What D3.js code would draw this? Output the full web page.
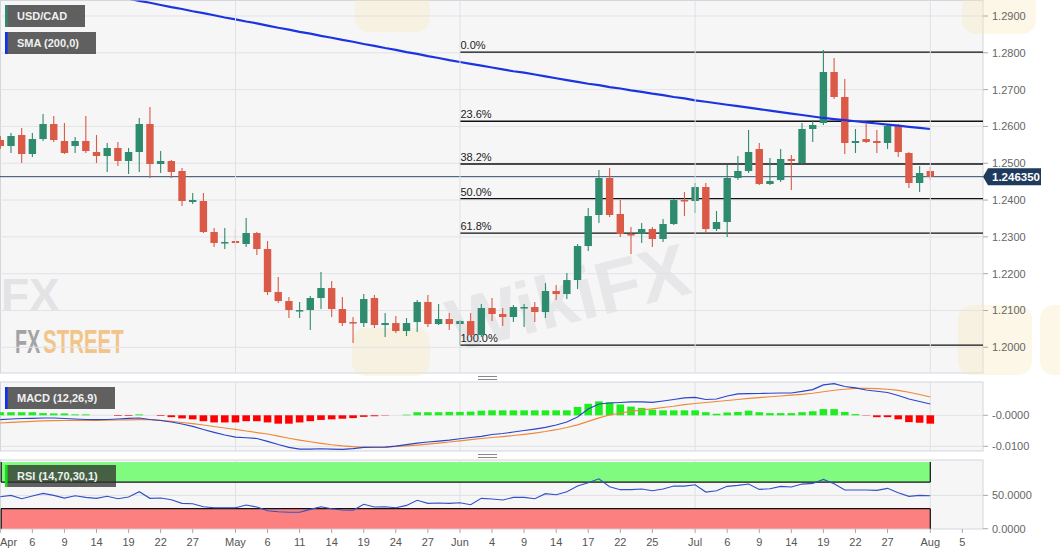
<!DOCTYPE html>
<html><head><meta charset="utf-8">
<script src="https://cdn.jsdelivr.net/npm/d3@7"></script>
<style>
html,body{margin:0;padding:0;background:#fff;}
svg{display:block;font-family:"Liberation Sans",Arial,sans-serif;}
</style></head><body>
<svg id="c" width="1060" height="555"></svg>
<script>
// ---------- DATA (USD/CAD daily, Apr 1 – Aug 2) ----------
const open=[1.25631,1.25468,1.25767,1.25251,1.25658,1.26066,1.25604,1.25468,1.25604,1.25305,
1.25196,1.25414,1.25061,1.25305,1.26066,1.24979,1.25061,1.24789,1.23947,1.23974,
1.23132,1.22833,1.22887,1.22806,1.23105,1.22670,1.21501,1.21257,1.20985,1.21012,
1.21339,1.21610,1.21040,1.20686,1.20659,1.21339,1.20605,1.20659,1.20442,1.20686,
1.21230,1.20632,1.20768,1.20632,1.20713,1.20333,1.21067,1.20904,1.20822,1.21067,
1.21094,1.20958,1.21529,1.21447,1.21827,1.22751,1.23594,1.24599,1.23621,1.23077,
1.23077,1.23213,1.22942,1.23349,1.24001,1.23974,1.24354,1.23213,1.23403,1.24599,
1.24789,1.25387,1.24436,1.24544,1.25115,1.25006,1.25930,1.26093,1.27479,1.26800,
1.25550,1.25658,1.25604,1.25550,1.26012,1.25278,1.24463,1.24789];
const high=[1.25740,1.25821,1.25957,1.25821,1.26338,1.26283,1.26093,1.25713,1.26283,1.25767,
1.25550,1.25577,1.25414,1.26229,1.26528,1.25332,1.25088,1.24871,1.24191,1.24191,
1.23240,1.23240,1.23186,1.23512,1.23132,1.22887,1.21909,1.21366,1.21230,1.21393,
1.22045,1.21800,1.21366,1.20822,1.21447,1.21420,1.20931,1.20849,1.20795,1.21284,
1.21420,1.21175,1.20931,1.20740,1.20931,1.21175,1.21339,1.21067,1.21148,1.21175,
1.21230,1.21746,1.21692,1.22017,1.22806,1.23784,1.24816,1.24871,1.24001,1.23268,
1.23376,1.23268,1.23485,1.24028,1.24218,1.24463,1.24463,1.23702,1.24952,1.25196,
1.25903,1.25550,1.25142,1.25387,1.25224,1.26093,1.26175,1.28077,1.27859,1.27289,
1.25930,1.26066,1.25903,1.26066,1.26066,1.25305,1.24925,1.24898];
const low=[1.25387,1.25278,1.25006,1.25169,1.25604,1.25577,1.25251,1.25278,1.25278,1.25006,
1.24762,1.24925,1.24708,1.24762,1.24599,1.24735,1.24599,1.23838,1.23892,1.23105,
1.22724,1.22670,1.22670,1.22724,1.22507,1.21420,1.21203,1.20795,1.20795,1.20469,
1.21040,1.20822,1.20578,1.20116,1.20550,1.20523,1.20279,1.20388,1.20306,1.20415,
1.20550,1.20605,1.20469,1.20061,1.20279,1.20279,1.20713,1.20578,1.20686,1.20550,
1.20686,1.20795,1.21284,1.21311,1.21583,1.22615,1.23376,1.23539,1.22996,1.22534,
1.22833,1.22724,1.22860,1.23322,1.23566,1.23648,1.23105,1.23159,1.22996,1.24544,
1.24735,1.24409,1.24409,1.24490,1.24273,1.24979,1.25577,1.26039,1.26745,1.25251,
1.25278,1.25550,1.25278,1.25387,1.25169,1.24327,1.24218,1.24544];
const close=[1.25468,1.25740,1.25251,1.25658,1.26066,1.25631,1.25278,1.25604,1.25332,1.25196,
1.25414,1.25061,1.25305,1.26066,1.24979,1.25061,1.24762,1.23974,1.24001,1.23132,
1.22833,1.22860,1.22833,1.23105,1.22670,1.21501,1.21257,1.21012,1.21012,1.21339,
1.21610,1.21040,1.20659,1.20659,1.21311,1.20605,1.20659,1.20442,1.20659,1.21230,
1.20632,1.20768,1.20632,1.20713,1.20333,1.21067,1.20904,1.20822,1.21094,1.21094,
1.20958,1.21529,1.21447,1.21827,1.22751,1.23566,1.24599,1.23594,1.23077,1.23050,
1.23213,1.22942,1.23349,1.24001,1.23974,1.24354,1.23213,1.23403,1.24599,1.24789,
1.25305,1.24436,1.24517,1.25115,1.25061,1.25930,1.26039,1.27479,1.26800,1.25550,
1.25604,1.25577,1.25550,1.26012,1.25305,1.24463,1.24735,1.24635];
const sma200=[1.3014,1.3008,1.3003,1.2997,1.2992,1.2986,1.2980,1.2975,1.2969,1.2964,
1.2958,1.2952,1.2947,1.2941,1.2936,1.2930,1.2924,1.2919,1.2913,1.2908,
1.2902,1.2896,1.2891,1.2885,1.2880,1.2874,1.2868,1.2863,1.2857,1.2852,
1.2846,1.2841,1.2835,1.2830,1.2824,1.2819,1.2813,1.2808,1.2802,1.2797,
1.2791,1.2786,1.2780,1.2775,1.2770,1.2765,1.2760,1.2755,1.2750,1.2746,
1.2741,1.2736,1.2731,1.2726,1.2721,1.2716,1.2712,1.2707,1.2703,1.2698,
1.2694,1.2689,1.2685,1.2680,1.2676,1.2671,1.2667,1.2663,1.2659,1.2655,
1.2651,1.2647,1.2643,1.2639,1.2635,1.2631,1.2627,1.2623,1.2620,1.2617,
1.2614,1.2611,1.2608,1.2605,1.2602,1.2599,1.2596,1.2593];
const macd=[-0.00142,-0.00120,-0.00103,-0.00097,-0.00087,-0.00087,-0.00103,-0.00120,-0.00136,-0.00142,
-0.00136,-0.00120,-0.00097,-0.00087,-0.00136,-0.00168,-0.00216,-0.00281,-0.00355,-0.00459,
-0.00549,-0.00636,-0.00701,-0.00724,-0.00749,-0.00840,-0.00943,-0.01034,-0.01089,-0.01089,
-0.01079,-0.01089,-0.01098,-0.01072,-0.01034,-0.01030,-0.01024,-0.00992,-0.00943,-0.00895,
-0.00862,-0.00830,-0.00798,-0.00756,-0.00717,-0.00678,-0.00620,-0.00588,-0.00539,-0.00491,
-0.00443,-0.00388,-0.00313,-0.00216,-0.00055,0.00203,0.00365,0.00397,0.00413,0.00430,
0.00430,0.00420,0.00462,0.00510,0.00559,0.00581,0.00510,0.00526,0.00623,0.00688,
0.00698,0.00704,0.00711,0.00720,0.00720,0.00769,0.00827,0.00979,0.01021,0.00930,
0.00882,0.00817,0.00775,0.00736,0.00640,0.00526,0.00446,0.00365];
const signal=[-0.00249,-0.00226,-0.00210,-0.00194,-0.00178,-0.00174,-0.00168,-0.00165,-0.00162,-0.00162,
-0.00158,-0.00152,-0.00145,-0.00142,-0.00142,-0.00162,-0.00194,-0.00233,-0.00271,-0.00313,
-0.00362,-0.00410,-0.00452,-0.00507,-0.00556,-0.00604,-0.00669,-0.00740,-0.00798,-0.00853,
-0.00904,-0.00950,-0.00985,-0.01011,-0.01024,-0.01024,-0.01024,-0.01005,-0.00985,-0.00959,
-0.00927,-0.00895,-0.00862,-0.00824,-0.00782,-0.00749,-0.00717,-0.00685,-0.00652,-0.00614,
-0.00572,-0.00523,-0.00465,-0.00394,-0.00307,-0.00194,-0.00081,0.00010,0.00074,0.00129,
0.00171,0.00210,0.00252,0.00291,0.00342,0.00381,0.00413,0.00446,0.00478,0.00510,
0.00546,0.00572,0.00598,0.00623,0.00649,0.00678,0.00711,0.00759,0.00808,0.00840,
0.00866,0.00872,0.00862,0.00840,0.00801,0.00743,0.00672,0.00591];
const hist=[0.0010,0.0010,0.0010,0.0010,0.0007,0.0006,0.0006,0.0003,0.0003,0.0000,
0.0000,-0.0002,-0.0002,0.0003,0.0000,-0.0002,-0.0006,-0.0010,-0.0013,-0.0019,
-0.0023,-0.0023,-0.0023,-0.0019,-0.0019,-0.0023,-0.0027,-0.0027,-0.0023,-0.0019,
-0.0015,-0.0013,-0.0011,-0.0009,-0.0005,-0.0003,-0.0001,0.0000,0.0002,0.0010,
0.0010,0.0010,0.0011,0.0011,0.0012,0.0015,0.0016,0.0016,0.0016,0.0016,
0.0016,0.0016,0.0016,0.0016,0.0027,0.0037,0.0045,0.0042,0.0035,0.0028,
0.0024,0.0018,0.0016,0.0016,0.0016,0.0016,0.0010,0.0005,0.0009,0.0011,
0.0015,0.0010,0.0007,0.0007,0.0007,0.0010,0.0013,0.0020,0.0020,0.0011,
0.0004,-0.0001,-0.0006,-0.0006,-0.0013,-0.0022,-0.0024,-0.0027];
const rsi=[48,50,45,49,53,50,46,49.5,47,45.6,
48.6,45,47.6,55.6,45.6,46,43.5,38,37.5,33,
31.5,31.5,31.5,35.6,32.6,27,25.5,24.6,24.6,29,
33,30,28,27.6,36.6,32.6,33,31.5,35,42.6,
38,38.6,38,39,36,45.6,44.6,43,47,47,
45,52.6,51,55.6,64,69,75,63,58.6,58.6,
59.6,57,59.6,64,64,66,55,57,63.6,65,
67,59,60,63.6,62.6,67,68,74,67.6,58,
58,58,57.6,60.6,54,48.6,50,49.5];
const tickIdx=[0,3,6,9,12,15,18,22,25,28,31,34,37,40,43,46,49,52,55,58,61,65,68,71,74,77,80,83,87,90];
const tickLabels=["Apr","6","9","14","19","22","27","May","6","11","14","19","24","27","Jun","4","9","14","17","22","25","Jul","6","9","14","19","22","27","Aug","5"];
const monthIdx=[22,43,65,87];
const priceTicks=[1.20,1.21,1.22,1.23,1.24,1.25,1.26,1.27,1.28,1.29];
const fibHigh=1.2802, fibLow=1.2006, fibStartIdx=43;
const fibLevels=[0,0.236,0.382,0.5,0.618,1];
const fibLabels=["0.0%","23.6%","38.2%","50.0%","61.8%","100.0%"];
const lastPrice=1.24635, lastPriceLabel="1.246350";
const macdTicks=[0,-0.01], macdTickLabels=["-0.0000","-0.0100"];
const rsiTicks=[50,0], rsiTickLabels=["50.0000","0.0000"];
const rsiUpper=70, rsiLower=30;

// ---------- LAYOUT ----------
const W=1060, PR=983;
const main={t:0.5,b:373}, mp={t:382,b:451}, rp={t:460,b:529};
const svg=d3.select("#c");
const x=d3.scaleLinear().domain([0,87]).range([0.3,930.3]);
const y=d3.scaleLinear().domain([1.20,1.29]).range([347.3,16]);
const yM=d3.scaleLinear().domain([-0.01,0]).range([446.3,415.3]);
const yR=d3.scaleLinear().domain([0,100]).range([528.7,462.1]);
const idx=d3.range(open.length);

svg.append("rect").attr("width",W).attr("height",555).attr("fill","#fff");
const defs=svg.append("defs");
[["cm",main],["cmacd",mp],["crsi",rp]].forEach(([id,p])=>{
  defs.append("clipPath").attr("id",id).append("rect").attr("x",0).attr("y",p.t).attr("width",PR).attr("height",p.b-p.t);
});
[main,mp,rp].forEach(p=>{
  svg.append("rect").attr("x",0.5).attr("y",p.t).attr("width",PR-0.5).attr("height",p.b-p.t)
    .attr("fill","#f6f6f7").attr("stroke","#d3d6de").attr("stroke-width",1);
});

// watermarks
const wm=svg.append("g");
const shield=(g,x0,y0,w,h)=>g.append("rect").attr("x",x0).attr("y",y0).attr("width",w).attr("height",h).attr("rx",14)
  .attr("fill","#f6e7b8").attr("opacity",0.35);
shield(wm,355,-30,75,62); shield(wm,962,-30,74,64); shield(wm,958,305,74,70); shield(wm,1040,305,40,70); shield(wm,352,328,78,48);
wm.append("text").attr("x",1).attr("y",311).attr("font-size",46).attr("font-weight","bold").attr("fill","#e3e3e5").text("FX");
wm.append("text").attr("transform","translate(455,352) rotate(-14)").attr("font-size",74).attr("font-weight","bold")
  .attr("fill","#c8c8cc").attr("opacity",0.3).text("WikiFX");
wm.append("text").attr("transform","translate(15,353) scale(0.6,1)").attr("font-size",33).attr("font-weight","bold")
  .attr("fill","#a3a3a6").text("FX");
wm.append("text").attr("transform","translate(43,353) scale(0.62,1)").attr("font-size",33).attr("font-weight","bold")
  .attr("fill","#f2c489").text("STREET");

// ---------- MAIN PANEL ----------
const gm=svg.append("g").attr("clip-path","url(#cm)");
gm.selectAll(".hg").data(priceTicks).join("line").attr("x1",0).attr("x2",PR)
  .attr("y1",d=>y(d)).attr("y2",d=>y(d)).attr("stroke","#e2e3e6");
[main,mp,rp].forEach(p=>{
  svg.selectAll(null).data(monthIdx).join("line").attr("x1",d=>x(d)).attr("x2",d=>x(d))
    .attr("y1",p.t).attr("y2",p.b).attr("stroke","#e0e1e5");
});
const fibY=l=>fibHigh-(fibHigh-fibLow)*l;
gm.selectAll(".fib").data(fibLevels).join("line").attr("x1",x(fibStartIdx)).attr("x2",PR)
  .attr("y1",d=>y(fibY(d))).attr("y2",d=>y(fibY(d))).attr("stroke","#111").attr("stroke-width",1.3);
gm.selectAll(".fibt").data(fibLevels).join("text").attr("x",x(fibStartIdx)+0.5).attr("y",d=>y(fibY(d))-3)
  .attr("font-size",11).attr("fill","#222").text((d,i)=>fibLabels[i]);
gm.append("line").attr("x1",0).attr("x2",PR).attr("y1",y(lastPrice)).attr("y2",y(lastPrice)).attr("stroke","#2f4a68").attr("stroke-width",1);
const up="#2e8b6e", dn="#da5a47", bw=7.4;
const cg=gm.selectAll(".c").data(idx).join("g");
cg.append("line").attr("x1",i=>x(i)).attr("x2",i=>x(i)).attr("y1",i=>y(high[i])).attr("y2",i=>y(low[i]))
  .attr("stroke",i=>close[i]>=open[i]?up:dn).attr("stroke-width",1.1);
cg.append("rect").attr("x",i=>x(i)-bw/2).attr("width",bw)
  .attr("y",i=>y(Math.max(open[i],close[i])))
  .attr("height",i=>Math.max(1.5,Math.abs(y(open[i])-y(close[i]))))
  .attr("fill",i=>close[i]>=open[i]?up:dn);
gm.append("path").datum(idx).attr("fill","none").attr("stroke","#1a35e0").attr("stroke-width",2.2)
  .attr("d",d3.line().x(i=>x(i)).y(i=>y(sma200[i])));

const axG=svg.append("g").attr("font-size",11).attr("fill","#666");
function rightAxis(vals,labels,sc){
  vals.forEach((v,k)=>{
    axG.append("line").attr("x1",PR).attr("x2",PR+5).attr("y1",sc(v)).attr("y2",sc(v)).attr("stroke","#aaa");
    axG.append("text").attr("x",PR+9).attr("y",sc(v)).attr("dy","0.36em").text(labels[k]);
  });
}
rightAxis(priceTicks,priceTicks.map(d=>d.toFixed(4)),y);
const py=y(lastPrice);
svg.append("path").attr("d",`M${PR},${py} L${PR+5},${py-8.5} L${PR+58},${py-8.5} L${PR+58},${py+8.5} L${PR+5},${py+8.5} Z`).attr("fill","#1e3a5c");
svg.append("text").attr("x",PR+9).attr("y",py).attr("dy","0.36em").attr("font-size",11.5).attr("font-weight","bold").attr("fill","#fff").text(lastPriceLabel);

// ---------- MACD ----------
const gmc=svg.append("g").attr("clip-path","url(#cmacd)");
gmc.selectAll(".mg").data(macdTicks).join("line").attr("x1",0).attr("x2",PR).attr("y1",d=>yM(d)).attr("y2",d=>yM(d)).attr("stroke","#e2e3e6");
gmc.selectAll(".hb").data(idx.filter(i=>hist[i]!==0)).join("rect")
  .attr("x",i=>x(i)-3.8).attr("width",7.6)
  .attr("y",i=>Math.min(yM(0),yM(hist[i]))).attr("height",i=>Math.abs(yM(hist[i])-yM(0)))
  .attr("fill",i=>hist[i]>0?"#1eee1e":"#ff0000");
gmc.append("path").datum(idx).attr("fill","none").attr("stroke","#f0883a").attr("stroke-width",1.2)
  .attr("d",d3.line().x(i=>x(i)).y(i=>yM(signal[i])));
gmc.append("path").datum(idx).attr("fill","none").attr("stroke","#2a45c8").attr("stroke-width",1.2)
  .attr("d",d3.line().x(i=>x(i)).y(i=>yM(macd[i])));
rightAxis(macdTicks,macdTickLabels,yM);

// ---------- RSI ----------
const gr=svg.append("g").attr("clip-path","url(#crsi)");
gr.append("line").attr("x1",0).attr("x2",PR).attr("y1",yR(50)).attr("y2",yR(50)).attr("stroke","#e0e1e5");
const xe=x(87);
gr.append("rect").attr("x",1).attr("y",yR(100)).attr("width",xe-1).attr("height",yR(rsiUpper)-yR(100)).attr("fill","#80fb80");
gr.append("rect").attr("x",1).attr("y",yR(rsiLower)).attr("width",xe-1).attr("height",yR(0)-yR(rsiLower)).attr("fill","#fd8080");
const bl=(x1,y1,x2,y2)=>gr.append("line").attr("x1",x1).attr("y1",y1).attr("x2",x2).attr("y2",y2).attr("stroke","#111").attr("stroke-width",1.2);
bl(1,yR(rsiUpper),xe,yR(rsiUpper)); bl(xe,yR(100),xe,yR(rsiUpper)); bl(1.2,yR(100),1.2,yR(rsiUpper));
bl(1,yR(rsiLower),xe,yR(rsiLower)); bl(xe,yR(rsiLower),xe,yR(0)); bl(1.2,yR(rsiLower),1.2,yR(0));
gr.append("path").datum(idx).attr("fill","none").attr("stroke","#3350c8").attr("stroke-width",1.1)
  .attr("d",d3.line().x(i=>x(i)).y(i=>yR(rsi[i])));
rightAxis(rsiTicks,rsiTickLabels,yR);

// ---------- X AXIS ----------
const xg=svg.append("g").attr("font-size",11).attr("fill","#555");
tickIdx.forEach((t,k)=>{
  xg.append("line").attr("x1",x(t)).attr("x2",x(t)).attr("y1",rp.b).attr("y2",rp.b+4).attr("stroke","#aaa");
  xg.append("text").attr("x",k===0?0:x(t)).attr("y",546).attr("text-anchor",k===0?"start":"middle").text(tickLabels[k]);
});

[[376.5,379.5],[454.5,457.5]].forEach(ys=>ys.forEach(yy=>{
  svg.append("line").attr("x1",478).attr("x2",497).attr("y1",yy).attr("y2",yy).attr("stroke","#888").attr("stroke-width",1);
}));

function labelBox(x0,y0,w,txt,bar){
  svg.append("rect").attr("x",x0).attr("y",y0).attr("width",w).attr("height",22).attr("fill","rgba(48,48,48,0.76)");
  svg.append("rect").attr("x",x0).attr("y",y0).attr("width",2.6).attr("height",22).attr("fill",bar);
  svg.append("text").attr("x",x0+12).attr("y",y0+11).attr("dy","0.36em").attr("font-size",11).attr("font-weight","bold")
    .attr("fill","#f0f0f0").text(txt);
}
labelBox(5,5,80,"USD/CAD",up);
labelBox(5,32,91,"SMA (200,0)","#1030f0");
labelBox(5,387,110,"MACD (12,26,9)","#1030f0");
labelBox(5,465,111,"RSI (14,70,30,1)","#12e012");
</script>
</body></html>
